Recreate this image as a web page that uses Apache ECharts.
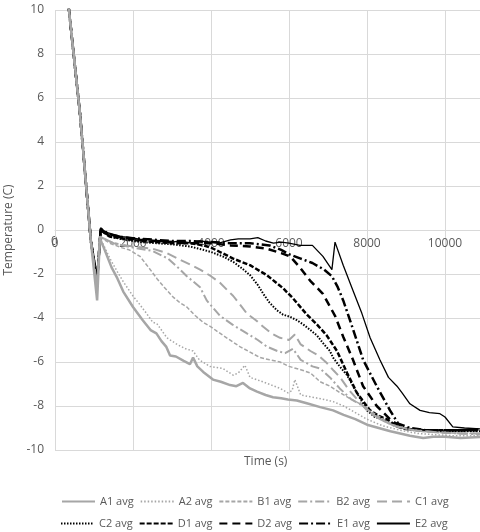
<!DOCTYPE html>
<html><head><meta charset="utf-8">
<script src="https://cdn.jsdelivr.net/npm/echarts@6/dist/echarts.min.js"></script>
<style>html,body{margin:0;padding:0;background:#fff}#c{width:480px;height:532px}</style>
</head><body><div id="c"></div>
<script>
const xTicks = [0, 2000, 4000, 6000, 8000, 10000];
const yTicks = [-10, -8, -6, -4, -2, 0, 2, 4, 6, 8, 10];
const seriesNames = ['A1 avg','A2 avg','B1 avg','B2 avg','C1 avg','C2 avg','D1 avg','D2 avg','E1 avg','E2 avg'];

const A1 = [[250,11.8],[640,5.3],[920,-0.5],[1080,-3.2],[1150,-0.4],[1250,-0.8],[1450,-1.7],[1600,-2.2],[1750,-2.8],[2000,-3.5],[2250,-4.1],[2450,-4.55],[2600,-4.7],[2730,-5.05],[2850,-5.3],[2950,-5.7],[3100,-5.75],[3300,-5.95],[3460,-6.1],[3540,-5.8],[3650,-6.2],[3800,-6.45],[4050,-6.8],[4250,-6.9],[4490,-7.05],[4650,-7.1],[4820,-6.95],[5000,-7.2],[5180,-7.35],[5400,-7.5],[5590,-7.6],[5800,-7.65],[5970,-7.7],[6200,-7.75],[6500,-7.9],[6800,-8.05],[7130,-8.2],[7400,-8.4],[7700,-8.6],[8000,-8.85],[8300,-9.0],[8600,-9.15],[8850,-9.25],[9100,-9.35],[9440,-9.45],[9700,-9.4],[10000,-9.4],[10400,-9.45],[11000,-9.4]];
const A2 = [[250,11.8],[640,5.3],[920,-0.5],[1080,-3.0],[1150,-0.35],[1250,-0.7],[1410,-1.3],[1600,-1.9],[1750,-2.35],[2000,-3.0],[2180,-3.4],[2350,-3.8],[2510,-4.2],[2610,-4.25],[2870,-4.9],[3130,-5.2],[3350,-5.4],[3540,-5.5],[3700,-5.9],[3970,-6.2],[4150,-6.25],[4310,-6.3],[4570,-6.6],[4700,-6.5],[4870,-6.15],[5000,-6.7],[5330,-6.9],[5550,-7.05],[5770,-7.2],[5970,-7.4],[6080,-7.3],[6150,-6.8],[6300,-7.5],[6600,-7.6],[6900,-7.7],[7130,-7.8],[7400,-8.0],[7700,-8.3],[8000,-8.6],[8400,-8.9],[8850,-9.1],[9300,-9.25],[9700,-9.3],[10200,-9.35],[11000,-9.35]];
const B1 = [[250,11.8],[640,5.3],[920,-0.5],[1080,-2.8],[1150,-0.3],[1400,-0.6],[1700,-0.8],[1900,-0.9],[2180,-1.2],[2400,-1.7],[2610,-2.2],[2800,-2.6],[3030,-3.05],[3200,-3.3],[3380,-3.5],[3600,-3.9],[3800,-4.2],[4000,-4.4],[4150,-4.6],[4400,-4.9],[4740,-5.3],[5000,-5.55],[5260,-5.8],[5500,-5.9],[5770,-6.0],[6000,-6.2],[6300,-6.35],[6550,-6.5],[6800,-6.9],[7050,-7.1],[7310,-7.4],[7550,-7.65],[7820,-7.9],[8050,-8.2],[8330,-8.5],[8600,-8.8],[8900,-9.0],[9300,-9.15],[9800,-9.2],[10400,-9.25],[11000,-9.25]];
const B2 = [[250,11.8],[640,5.3],[920,-0.5],[1080,-2.6],[1150,-0.3],[1500,-0.6],[2000,-0.8],[2500,-0.95],[2900,-1.3],[3150,-1.7],[3380,-2.1],[3720,-2.6],[3890,-3.2],[4230,-3.9],[4550,-4.3],[4920,-4.7],[5200,-5.0],[5430,-5.3],[5700,-5.5],[5900,-5.6],[6100,-5.4],[6300,-5.9],[6600,-6.2],[6800,-6.3],[7050,-6.7],[7300,-7.2],[7600,-7.7],[7900,-8.0],[8330,-8.6],[8700,-8.9],[9200,-9.1],[9800,-9.2],[10400,-9.25],[11000,-9.3]];
const C1 = [[250,11.8],[640,5.3],[920,-0.5],[1080,-2.5],[1150,-0.3],[1500,-0.6],[2000,-0.75],[2500,-0.85],[2870,-1.05],[3200,-1.35],[3500,-1.6],[3720,-1.8],[4000,-2.1],[4230,-2.4],[4570,-3.0],[4750,-3.4],[4920,-3.8],[5150,-4.1],[5340,-4.4],[5550,-4.7],[5770,-4.9],[6000,-5.0],[6150,-4.75],[6300,-5.2],[6550,-5.5],[6750,-5.7],[6970,-6.05],[7150,-6.4],[7310,-6.7],[7550,-7.3],[7800,-7.8],[8000,-8.2],[8330,-8.6],[8700,-8.9],[9200,-9.1],[9800,-9.2],[10400,-9.25],[11000,-9.25]];
const C2 = [[250,11.8],[640,5.3],[920,-0.5],[1080,-2.3],[1170,0.0],[1400,-0.3],[1800,-0.45],[2200,-0.55],[2600,-0.6],[3000,-0.65],[3460,-0.75],[3800,-0.9],[4000,-1.0],[4300,-1.2],[4570,-1.45],[4800,-1.75],[5000,-2.05],[5200,-2.5],[5340,-2.9],[5500,-3.3],[5690,-3.65],[5850,-3.85],[6030,-3.95],[6200,-4.1],[6370,-4.3],[6550,-4.55],[6720,-4.8],[6900,-5.2],[7050,-5.5],[7130,-5.8],[7300,-6.2],[7490,-6.6],[7740,-7.4],[8000,-8.2],[8200,-8.5],[8410,-8.6],[8700,-8.9],[8900,-9.0],[9300,-9.1],[10000,-9.15],[11000,-9.15]];
const D1 = [[250,11.8],[640,5.3],[920,-0.5],[1080,-2.3],[1170,0.0],[1400,-0.3],[1800,-0.4],[2200,-0.5],[2600,-0.55],[3000,-0.6],[3500,-0.6],[3800,-0.7],[4000,-0.8],[4230,-1.0],[4570,-1.3],[5000,-1.6],[5430,-2.05],[5850,-2.65],[6100,-3.1],[6460,-3.85],[6720,-4.3],[6970,-4.8],[7230,-5.5],[7490,-6.5],[7740,-7.4],[8080,-8.2],[8300,-8.45],[8510,-8.6],[8800,-8.95],[9000,-9.05],[9500,-9.1],[10000,-9.1],[10500,-9.1],[11000,-9.05]];
const D2 = [[250,11.8],[640,5.3],[920,-0.5],[1080,-2.3],[1170,0.0],[1400,-0.25],[1800,-0.35],[2200,-0.45],[2600,-0.5],[3000,-0.55],[3500,-0.6],[4000,-0.6],[4500,-0.7],[5000,-0.75],[5430,-0.85],[5800,-1.05],[6030,-1.2],[6280,-1.7],[6540,-2.3],[6870,-2.9],[7180,-3.9],[7390,-4.85],[7640,-5.9],[7900,-7.1],[8250,-8.0],[8590,-8.6],[8900,-9.0],[9300,-9.1],[10000,-9.1],[11000,-9.1]];
const E1 = [[250,11.8],[640,5.3],[920,-0.5],[1080,-2.3],[1170,0.05],[1400,-0.2],[1800,-0.35],[2200,-0.4],[2600,-0.45],[3000,-0.5],[3500,-0.5],[4000,-0.55],[4500,-0.6],[5000,-0.6],[5500,-0.7],[5800,-0.9],[6000,-1.1],[6300,-1.3],[6600,-1.5],[6900,-1.8],[7100,-2.1],[7250,-2.6],[7390,-3.2],[7640,-4.5],[7900,-5.9],[8250,-7.1],[8590,-8.2],[8800,-8.8],[9100,-9.0],[9500,-9.1],[10000,-9.1],[11000,-9.1]];
const E2 = [[250,11.8],[640,5.3],[920,-0.5],[1080,-2.3],[1170,0.1],[1300,-0.1],[1500,-0.2],[1700,-0.3],[2000,-0.35],[2200,-0.45],[2400,-0.4],[2600,-0.55],[2800,-0.5],[3000,-0.55],[3200,-0.5],[3500,-0.6],[3700,-0.5],[4000,-0.55],[4200,-0.6],[4500,-0.45],[4700,-0.4],[5000,-0.4],[5200,-0.35],[5400,-0.5],[5600,-0.6],[5800,-0.55],[6000,-0.6],[6280,-0.7],[6600,-0.7],[6870,-1.2],[7100,-1.8],[7180,-0.55],[7390,-1.6],[7650,-2.8],[7870,-3.8],[8080,-4.9],[8330,-5.9],[8550,-6.7],[8770,-7.1],[8900,-7.4],[9100,-7.9],[9360,-8.2],[9600,-8.3],[9870,-8.35],[10000,-8.5],[10200,-8.95],[10500,-9.0],[11000,-9.05]];

const dataList = [A1,A2,B1,B2,C1,C2,D1,D2,E1,E2];
const GRAY = '#a6a6a6', BLACK = '#000000';
const styles = [
  {color:GRAY, width:2.5, type:'solid'},
  {color:GRAY, width:1.5, type:[1.5,2]},
  {color:GRAY, width:1.5, type:[4,2]},
  {color:GRAY, width:2, type:[9,3,2,3]},
  {color:GRAY, width:2, type:[10,5]},
  {color:BLACK, width:2, type:[1.5,1.5]},
  {color:BLACK, width:2.5, type:[5,2]},
  {color:BLACK, width:2.5, type:[8,5]},
  {color:BLACK, width:2.5, type:[9,3,2,3]},
  {color:BLACK, width:1.3, type:'solid'}
];

const series = seriesNames.map((n,i)=>({
  name:n, type:'line', data:dataList[i], showSymbol:false, symbol:'none', smooth:false,
  lineStyle:{color:styles[i].color, width:styles[i].width, type:styles[i].type},
  itemStyle:{color:styles[i].color},
  z: 10 - i
}));

const txt = '#595959';
const legendText = {color:txt, fontSize:11, fontFamily:'Open Sans'};
const chart = echarts.init(document.getElementById('c'), null, {renderer:'canvas'});
chart.setOption({
  animation:false,
  backgroundColor:'#fff',
  grid:{left:55, top:10, bottom:82, right:-43, containLabel:false, outerBoundsMode:'none'},
  xAxis:{type:'value', min:0, max:12000, interval:2000,
    offset:-220,
    axisLine:{show:true, onZero:false, lineStyle:{color:'#d9d9d9'}},
    axisTick:{show:false},
    axisLabel:{color:txt, fontSize:12, fontFamily:'Open Sans', margin:8,
      showMinLabel:true, hideOverlap:false,
      formatter:v=> xTicks.includes(v) ? String(v) : ''},
    splitLine:{show:true, lineStyle:{color:'#d9d9d9', width:1}}
  },
  yAxis:{type:'value', min:-10, max:10, interval:2,
    name:'Temperature (C)', nameLocation:'middle', nameGap:40, nameRotate:90,
    nameTextStyle:{color:txt, fontSize:12, fontFamily:'Open Sans'},
    axisLine:{show:false, onZero:false}, axisTick:{show:false},
    axisLabel:{color:txt, fontSize:12, fontFamily:'Open Sans', margin:11,
      showMinLabel:true, hideOverlap:false,
      formatter:v=> yTicks.includes(v) ? String(v) : ''},
    splitLine:{show:true, lineStyle:{color:'#d9d9d9', width:1}}
  },
  graphic:[
    {type:'text', left:244, top:456, style:{text:'Time (s)', fill:txt, font:'12px "Open Sans"'}},
    {type:'text', left:51, top:236, style:{text:String(xTicks[0]), fill:txt, font:'12px "Open Sans"'}}
  ],
  legend:[
    {data:seriesNames.slice(0,5), top:491, left:56, itemWidth:33, itemHeight:12, itemGap:6,
     itemStyle:{opacity:0}, textStyle:legendText},
    {data:seriesNames.slice(5), top:513, left:55, itemWidth:33, itemHeight:12, itemGap:6,
     itemStyle:{opacity:0}, textStyle:legendText}
  ],
  series: series
});
</script>
</body></html>
